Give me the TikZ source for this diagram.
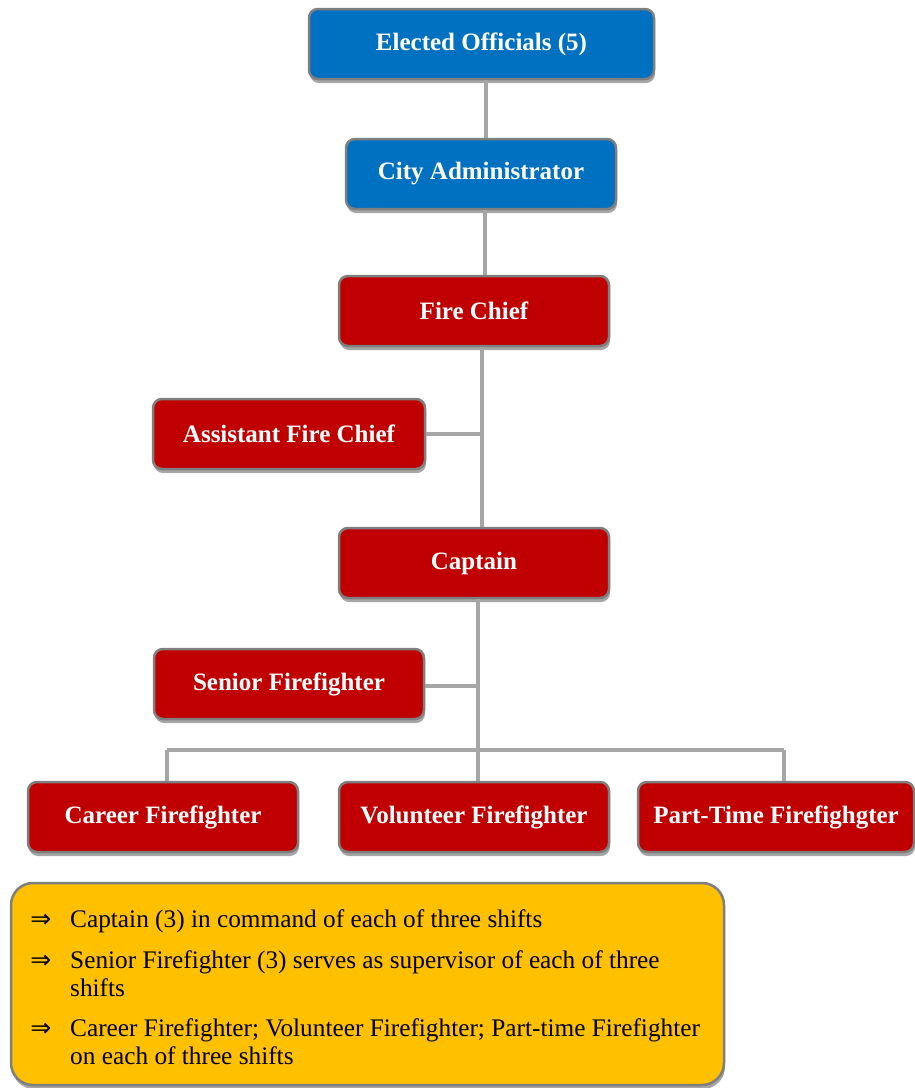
\documentclass[tikz,border=0pt]{standalone}
\usepackage{fontspec}
\setmainfont{Liberation Serif}
\newfontfamily\symf{DejaVu Sans}
\usetikzlibrary{shadows}
\definecolor{cblue}{HTML}{0070C0}
\definecolor{cred}{HTML}{C00000}
\definecolor{cyel}{HTML}{FFC000}
\definecolor{cbord}{HTML}{7F7F7F}
\definecolor{cline}{HTML}{A6A6A6}
\tikzset{
  box/.style={draw=cbord, line width=2.5pt, rounded corners=9pt, minimum width=#1, minimum height=70pt,
    text=white, font=\fontsize{25}{28}\selectfont\bfseries, inner sep=0pt,
    drop shadow={shadow xshift=1pt, shadow yshift=-4pt, opacity=0.35, fill=black}},
  bluebox/.style={box=#1, fill=cblue},
  redbox/.style={box=#1, fill=cred},
  conn/.style={draw=cline, line width=3.5pt},
  note/.style={anchor=base west, font=\fontsize{25.3}{28}\selectfont, text=black, align=left, inner sep=0pt},
  arr/.style={anchor=center, inner sep=0pt}
}
\newcommand{\bigarr}{\resizebox{21pt}{!}{\symf ⇒}}
\begin{document}
\begin{tikzpicture}[x=1pt,y=-1pt]
\useasboundingbox (0,0) rectangle (915,1088);
\coordinate (j1) at (482,434);
\coordinate (j2) at (478,686);
\coordinate (bar) at (478,750);
\coordinate (barL) at (167,750);
\coordinate (barR) at (784,750);
\node[bluebox=345pt] (eo) at (481.5,44) {Elected Officials (5)};
\node[bluebox=270pt] (ca) at (481,174) {City Administrator};
\node[redbox=270pt] (fc) at (474,311) {Fire Chief};
\node[redbox=272pt] (afc) at (289,434) {Assistant Fire Chief};
\node[redbox=270pt] (cap) at (474,563) {Captain};
\node[redbox=270pt] (sf) at (289,684) {Senior Firefighter};
\node[redbox=270pt] (cf) at (163,817) {Career Firefighter};
\node[redbox=270pt] (vf) at (474,817) {Volunteer Firefighter};
\node[redbox=276pt] (pf) at (776,817) {Part-Time Firefighgter};
\draw[conn] (eo.south -| 486,0) -- (ca.north -| 486,0);
\draw[conn] (ca.south -| 485,0) -- (fc.north -| 485,0);
\draw[conn] (fc.south -| j1) -- (cap.north -| j1);
\draw[conn] (afc.east |- j1) -- (j1);
\draw[conn] (cap.south -| j2) -- (bar);
\draw[conn] (sf.east |- j2) -- (j2);
\draw[conn] (barL) -- (barR);
\draw[conn] (barL) -- (cf.north -| barL);
\draw[conn] (bar) -- (vf.north -| bar);
\draw[conn] (barR) -- (pf.north -| barR);
% note box
\node[draw=cbord, line width=2.5pt, fill=cyel, rounded corners=22pt, minimum width=713pt, minimum height=202pt,
  drop shadow={shadow xshift=1pt, shadow yshift=-4pt, opacity=0.35, fill=black}] (nb) at (367.5,984) {};
\node[arr] (a1) at (41,921) {\bigarr};
\node[note] (t1) at (70,927) {Captain (3) in command of each of three shifts};
\node[arr] (a2) at (41,962) {\bigarr};
\node[note] (t2) at (70,996) {Senior Firefighter (3) serves as supervisor of each of three\\shifts};
\node[arr] (a3) at (41,1030) {\bigarr};
\node[note] (t3) at (70,1064) {Career Firefighter; Volunteer Firefighter; Part-time Firefighter\\on each of three shifts};
\end{tikzpicture}
\end{document}
